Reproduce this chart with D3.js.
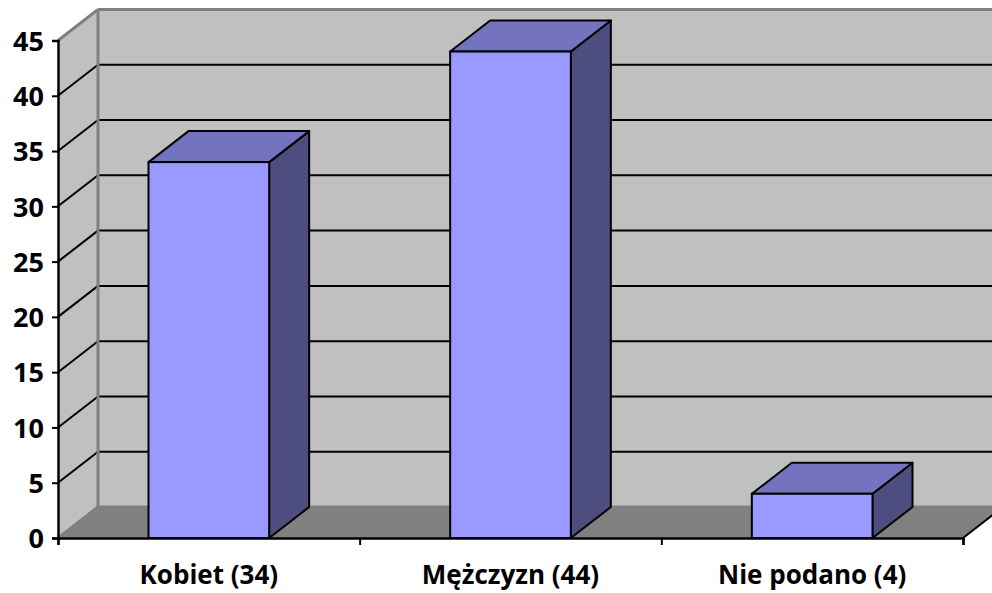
<!DOCTYPE html>
<html>
<head>
<meta charset="utf-8">
<script src="https://cdn.jsdelivr.net/npm/d3@7"></script>
<style>
  body { margin: 0; background: #ffffff; }
  svg { display: block; }
</style>
</head>
<body>
<script>
// data
const categories = ["Kobiet (34)", "Mężczyzn (44)", "Nie podano (4)"];
const values = [34, 44, 4];
const yTicks = [0, 5, 10, 15, 20, 25, 30, 35, 40, 45];

const width = 992;
const height = 593;

// front plane of the 3d box and depth offset
const plot = { left: 58, right: 963, top: 40.5, bottom: 538 };
const depth = { dx: 40, dy: -31 };

const wallColor = "#c0c0c0";
const floorColor = "#808080";
const edgeColor = "#808080";
const labelFont = "'Open Sans', sans-serif";

var svg = d3.select("body")
    .append("svg")
    .attr("width", width)
    .attr("height", height);

var y = d3.scaleLinear().domain([0, 45]).range([plot.bottom, plot.top]);
var x = d3.scaleBand()
    .domain(categories)
    .range([plot.left, plot.right])
    .paddingInner(0.6)
    .paddingOuter(0.3);

// point on a plane moved back by t (0 = front, 1 = back wall)
function pt(px, py, t) { return [px + depth.dx * t, py + depth.dy * t]; }
function poly(points) { return points.map(p => p.join(",")).join(" "); }

var walls = svg.append("g");

// back wall
walls.append("polygon")
    .attr("points", poly([pt(plot.left, y(45), 1), pt(plot.right, y(45), 1), pt(plot.right, y(0), 1), pt(plot.left, y(0), 1)]))
    .attr("fill", wallColor);

// left side wall
walls.append("polygon")
    .attr("points", poly([pt(plot.left, y(45), 0), pt(plot.left, y(45), 1), pt(plot.left, y(0), 1), pt(plot.left, y(0), 0)]))
    .attr("fill", wallColor);

// floor
walls.append("polygon")
    .attr("points", poly([pt(plot.left, y(0), 0), pt(plot.left, y(0), 1), pt(plot.right, y(0), 1), pt(plot.right, y(0), 0)]))
    .attr("fill", floorColor);

// gridlines on back wall and side wall
var grid = svg.append("g");
yTicks.filter(d => d > 0 && d < 45).forEach(function (d) {
    var a = pt(plot.left, y(d), 1), b = pt(plot.right, y(d), 1), c = pt(plot.left, y(d), 0);
    grid.append("line")
        .attr("x1", a[0]).attr("y1", a[1]).attr("x2", b[0]).attr("y2", b[1])
        .attr("stroke", "#000").attr("stroke-width", 2);
    grid.append("line")
        .attr("x1", c[0]).attr("y1", c[1]).attr("x2", a[0]).attr("y2", a[1])
        .attr("stroke", "#000").attr("stroke-width", 2);
});

// wall edges
var edges = [
    [pt(plot.left, y(45), 0), pt(plot.left, y(45), 1)],
    [pt(plot.left, y(45), 1), pt(plot.right, y(45), 1)],
    [pt(plot.left, y(45), 1), pt(plot.left, y(0), 1)],
    [pt(plot.left, y(0), 1), pt(plot.right, y(0), 1)],
    [pt(plot.left, y(0), 0), pt(plot.left, y(0), 1)]
];
edges.forEach(function (e) {
    grid.append("line")
        .attr("x1", e[0][0]).attr("y1", e[0][1]).attr("x2", e[1][0]).attr("y2", e[1][1])
        .attr("stroke", edgeColor).attr("stroke-width", 3);
});
// floor right edge
var fr = [pt(plot.right, y(0), 0), pt(plot.right, y(0), 1)];
grid.append("line")
    .attr("x1", fr[0][0]).attr("y1", fr[0][1]).attr("x2", fr[1][0]).attr("y2", fr[1][1])
    .attr("stroke", "#000").attr("stroke-width", 2);

// bars
var bars = svg.selectAll("g.bar")
    .data(categories)
    .enter()
    .append("g")
    .attr("class", "bar");

bars.each(function (d, i) {
    var g = d3.select(this);
    var x0 = x(d), x1 = x(d) + x.bandwidth();
    var yTop = y(values[i]), yBot = y(0);
    // side face
    g.append("polygon")
        .attr("points", poly([pt(x1, yTop, 0), pt(x1, yTop, 1), pt(x1, yBot, 1), pt(x1, yBot, 0)]))
        .attr("fill", "#4d4d80").attr("stroke", "#000").attr("stroke-width", 2).attr("stroke-linejoin", "round");
    // top face
    g.append("polygon")
        .attr("points", poly([pt(x0, yTop, 0), pt(x0, yTop, 1), pt(x1, yTop, 1), pt(x1, yTop, 0)]))
        .attr("fill", "#7373bf").attr("stroke", "#000").attr("stroke-width", 2).attr("stroke-linejoin", "round");
    // front face
    g.append("rect")
        .attr("x", x0).attr("y", yTop)
        .attr("width", x1 - x0).attr("height", yBot - yTop)
        .attr("fill", "#9999ff").attr("stroke", "#000").attr("stroke-width", 2);
});

// y axis
var yAxis = svg.append("g")
    .attr("transform", "translate(" + plot.left + ",0)")
    .call(d3.axisLeft(y).tickValues(yTicks).tickSize(6).tickPadding(8));
yAxis.select(".domain").attr("stroke", "#000").attr("stroke-width", 2.5);
yAxis.selectAll(".tick line").attr("stroke", "#000").attr("stroke-width", 2);
yAxis.selectAll("text")
    .attr("fill", "#000")
    .attr("dy", "0.36em")
    .style("font-family", labelFont)
    .style("font-weight", "bold")
    .style("font-size", "27px");

// x axis: ticks at band boundaries
var xEdges = d3.scaleLinear().domain([0, categories.length]).range([plot.left, plot.right]);
var xAxis = svg.append("g")
    .attr("transform", "translate(0," + plot.bottom + ")")
    .call(d3.axisBottom(xEdges).tickValues(d3.range(categories.length + 1)).tickSize(7).tickFormat(""));
xAxis.select(".domain").attr("stroke", "#000").attr("stroke-width", 2.5);
xAxis.selectAll(".tick line").attr("stroke", "#000").attr("stroke-width", 2);

svg.append("g")
    .selectAll("text")
    .data(categories)
    .enter()
    .append("text")
    .attr("x", d => x(d) + x.bandwidth() / 2)
    .attr("y", 584)
    .attr("text-anchor", "middle")
    .style("font-family", labelFont)
    .style("font-weight", "bold")
    .style("font-size", "26px")
    .text(d => d);
</script>
</body>
</html>
